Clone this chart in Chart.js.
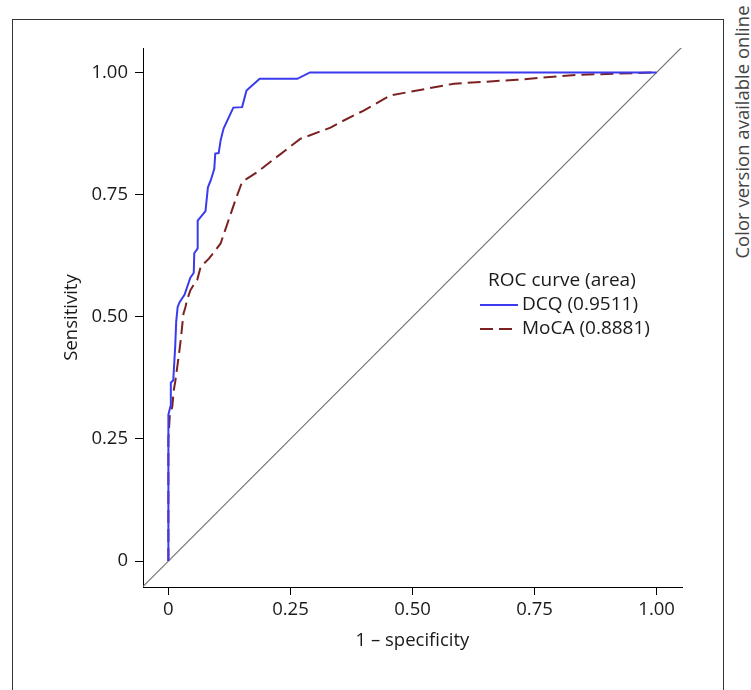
<!DOCTYPE html>
<html>
<head>
<meta charset="utf-8">
<script src="https://cdn.jsdelivr.net/npm/chart.js@4.4.1/dist/chart.umd.min.js"></script>
<style>
  html, body { margin: 0; padding: 0; background: #fff; overflow: hidden; }
  #wrap { position: relative; width: 751px; height: 690px; }
  #frame {
    position: absolute; left: 12px; top: 19px; width: 712px; height: 700px;
    border: 1px solid #333; box-sizing: border-box;
  }
  #note {
    position: absolute; left: 741px; top: 132px;
    transform: translate(-50%, -50%) rotate(-90deg);
    white-space: nowrap; font: 18.5px "Open Sans", sans-serif; color: #444;
  }
  canvas { position: absolute; left: 0; top: 0; }
</style>
</head>
<body>
<div id="wrap">
  <div id="frame"></div>
  <div id="note">Color version available online</div>
  <canvas id="roc" width="751" height="690"></canvas>
</div>
<script>
// ROC curve points
const dcqFpr = [0, 0, 0, 0.004, 0.005, 0.010, 0.014, 0.016, 0.019, 0.023, 0.033, 0.045, 0.052, 0.053, 0.060, 0.060,
  0.076, 0.081, 0.087, 0.094, 0.096, 0.103, 0.107, 0.113, 0.133, 0.151, 0.160, 0.168, 0.187, 0.264, 0.290, 1.0];
const dcqTpr = [0, 0.25, 0.30, 0.316, 0.365, 0.37, 0.44, 0.49, 0.52, 0.53, 0.545, 0.58, 0.59, 0.63, 0.64, 0.697,
  0.716, 0.765, 0.78, 0.803, 0.834, 0.835, 0.861, 0.885, 0.928, 0.929, 0.963, 0.970, 0.987, 0.987, 1.0, 1.0];

const mocaFpr = [0, 0, 0.003, 0.008, 0.011, 0.014, 0.021, 0.025, 0.028, 0.031, 0.035, 0.038, 0.045, 0.049, 0.059,
  0.066, 0.083, 0.107, 0.137, 0.151, 0.182, 0.257, 0.270, 0.332, 0.352, 0.40, 0.455, 0.585, 0.714, 0.837, 1.0];
const mocaTpr = [0, 0.25, 0.30, 0.316, 0.35, 0.367, 0.418, 0.45, 0.479, 0.507, 0.52, 0.534, 0.554, 0.561, 0.575,
  0.602, 0.619, 0.65, 0.738, 0.776, 0.796, 0.854, 0.864, 0.887, 0.898, 0.922, 0.953, 0.977, 0.985, 0.995, 1.0];

const refLine = [-0.06, 1.06];

const tickValues = [0, 0.25, 0.5, 0.75, 1];
const tickLabels = ['0', '0.25', '0.50', '0.75', '1.00'];

const seriesNames = ['DCQ (0.9511)', 'MoCA (0.8881)'];
const legendTitle = 'ROC curve (area)';

function toPoints(xs, ys) {
  return xs.map((x, i) => ({ x: x, y: ys[i] }));
}

const FONT = '"Open Sans", "Noto Sans", sans-serif';
const FSIZE = 18.5;

// legend drawn inside the plot, like the original
const legendBox = {
  id: 'legendBox',
  afterDraw(chart) {
    const ctx = chart.ctx;
    const sets = chart.data.datasets;
    ctx.save();
    ctx.font = '19px ' + FONT;
    ctx.fillStyle = '#1a1a1a';
    ctx.textBaseline = 'middle';
    ctx.fillText(legendTitle, 488, 281);
    [0, 1].forEach((i) => {
      const ds = sets[i];
      const y = 305 + i * 24;
      ctx.beginPath();
      ctx.strokeStyle = ds.borderColor;
      ctx.lineWidth = ds.borderWidth;
      ctx.setLineDash(ds.borderDash || []);
      ctx.moveTo(480, y);
      ctx.lineTo(518, y);
      ctx.stroke();
      ctx.setLineDash([]);
      ctx.fillText(ds.label, 522, y);
    });
    ctx.restore();
  }
};

const axisFont = { family: FONT, size: FSIZE };

new Chart(document.getElementById('roc').getContext('2d'), {
  type: 'line',
  data: {
    datasets: [
      {
        label: seriesNames[0],
        data: toPoints(dcqFpr, dcqTpr),
        borderColor: '#3a3af0',
        borderWidth: 2,
        pointRadius: 0,
        tension: 0,
        order: 1
      },
      {
        label: seriesNames[1],
        data: toPoints(mocaFpr, mocaTpr),
        borderColor: '#7a2222',
        borderWidth: 2,
        borderDash: [13, 6],
        pointRadius: 0,
        tension: 0,
        order: 2
      },
      {
        label: 'reference',
        data: toPoints(refLine, refLine),
        borderColor: '#6e6e6e',
        borderWidth: 1.1,
        pointRadius: 0,
        order: 3
      }
    ]
  },
  options: {
    responsive: false,
    animation: false,
    layout: { padding: { left: 57, right: 69, top: 48, bottom: 34 } },
    plugins: {
      legend: { display: false },
      tooltip: { enabled: false }
    },
    scales: {
      x: {
        type: 'linear',
        min: -0.052,
        max: 1.052,
        afterFit(scale) { scale.height = 69; },
        afterBuildTicks(scale) { scale.ticks = tickValues.map(v => ({ value: v })); },
        border: { display: true, color: '#000', width: 1 },
        grid: { drawOnChartArea: false, drawTicks: true, tickLength: 8, color: '#000' },
        ticks: {
          color: '#1a1a1a', font: axisFont, padding: 4, maxRotation: 0,
          callback: (v) => tickLabels[tickValues.indexOf(v)]
        },
        title: { display: true, text: '1 – specificity', color: '#1a1a1a', font: axisFont }
      },
      y: {
        type: 'linear',
        min: -0.053,
        max: 1.05,
        afterFit(scale) { scale.width = 86; },
        afterBuildTicks(scale) { scale.ticks = tickValues.map(v => ({ value: v })); },
        border: { display: true, color: '#000', width: 1 },
        grid: { drawOnChartArea: false, drawTicks: true, tickLength: 8, color: '#000' },
        ticks: {
          color: '#1a1a1a', font: axisFont, padding: 7,
          callback: (v) => tickLabels[tickValues.indexOf(v)]
        },
        title: { display: true, text: 'Sensitivity', color: '#1a1a1a', font: axisFont }
      }
    }
  },
  plugins: [legendBox]
});
</script>
</body>
</html>
